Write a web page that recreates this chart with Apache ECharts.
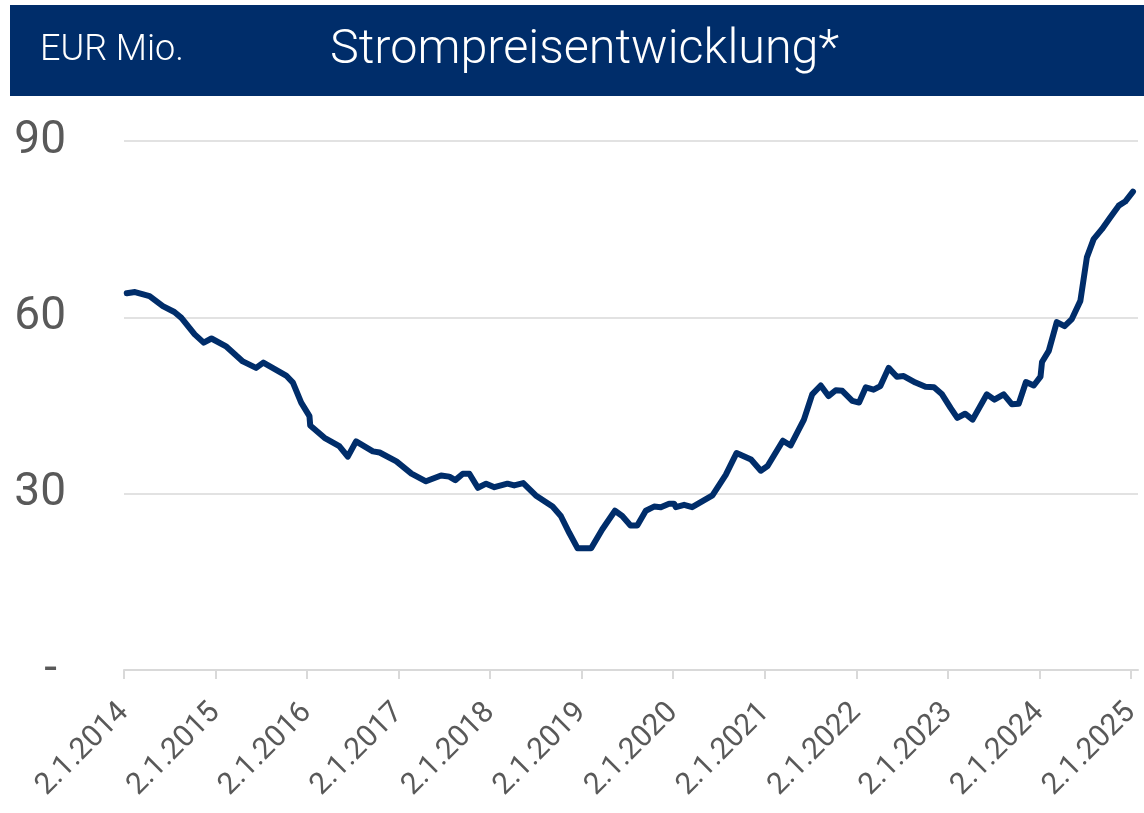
<!DOCTYPE html>
<html>
<head>
<meta charset="utf-8">
<script src="https://cdn.jsdelivr.net/npm/echarts@6/dist/echarts.min.js"></script>
<style>
  html, body { margin: 0; padding: 0; background: #fff; }
  #chart { width: 1144px; height: 813px; }
</style>
</head>
<body>
<div id="chart"></div>
<script>
// Messpunkte
const dates = [
  '2014-01-13', '2014-02-15', '2014-04-14', '2014-06-06', '2014-07-22', '2014-08-19',
  '2014-10-11', '2014-11-16', '2014-12-17', '2015-02-15', '2015-04-21', '2015-06-13',
  '2015-07-12', '2015-10-11', '2015-11-07', '2015-12-10', '2016-01-12', '2016-01-15',
  '2016-03-12', '2016-05-10', '2016-06-13', '2016-07-16', '2016-09-21', '2016-10-18',
  '2016-12-24', '2017-02-22', '2017-04-21', '2017-06-20', '2017-07-23', '2017-08-16',
  '2017-09-15', '2017-10-11', '2017-11-14', '2017-12-17', '2018-01-19', '2018-03-12',
  '2018-04-08', '2018-05-14', '2018-07-03', '2018-09-08', '2018-10-11', '2018-11-14',
  '2018-12-17', '2019-02-09', '2019-03-25', '2019-05-15', '2019-06-13', '2019-07-16',
  '2019-08-12', '2019-09-15', '2019-10-18', '2019-11-14', '2019-12-17', '2020-01-06',
  '2020-01-13', '2020-02-15', '2020-03-18', '2020-06-07', '2020-07-30', '2020-09-11',
  '2020-11-08', '2020-12-17', '2021-01-13', '2021-03-15', '2021-04-15', '2021-06-07',
  '2021-07-10', '2021-08-13', '2021-09-13', '2021-10-12', '2021-11-07', '2021-12-17',
  '2022-01-13', '2022-02-09', '2022-03-12', '2022-04-08', '2022-05-11', '2022-06-13',
  '2022-07-10', '2022-08-26', '2022-10-05', '2022-11-08', '2022-12-10', '2023-01-13',
  '2023-02-09', '2023-03-12', '2023-04-11', '2023-06-07', '2023-07-07', '2023-08-13',
  '2023-09-15', '2023-10-12', '2023-11-10', '2023-12-11', '2024-01-07', '2024-01-13',
  '2024-02-09', '2024-03-12', '2024-04-12', '2024-05-11', '2024-06-14', '2024-07-10',
  '2024-08-06', '2024-09-08', '2024-10-11', '2024-11-14', '2024-12-10', '2025-01-10'
]
const prices = [
  64.1, 64.3, 63.6, 61.9, 60.9, 59.9,
  57.1, 55.7, 56.4, 55.0, 52.5, 51.4,
  52.3, 50.1, 48.9, 45.5, 43.2, 41.6,
  39.5, 38.1, 36.3, 38.9, 37.2, 37.0,
  35.5, 33.4, 32.1, 33.1, 32.9, 32.3,
  33.4, 33.4, 31.0, 31.7, 31.1, 31.7,
  31.4, 31.8, 29.7, 27.8, 26.2, 23.3,
  20.7, 20.7, 23.9, 27.1, 26.2, 24.6,
  24.6, 27.1, 27.8, 27.7, 28.3, 28.3,
  27.7, 28.1, 27.7, 29.7, 33.2, 36.9,
  35.8, 33.9, 34.7, 39.0, 38.2, 42.6,
  46.9, 48.4, 46.6, 47.6, 47.5, 45.8,
  45.5, 48.1, 47.7, 48.3, 51.4, 49.9,
  50.0, 48.9, 48.2, 48.1, 46.9, 44.6,
  42.9, 43.6, 42.6, 46.9, 46.0, 46.9,
  45.2, 45.3, 49.0, 48.4, 49.9, 52.4,
  54.3, 59.2, 58.5, 59.7, 62.8, 70.2,
  73.3, 75.0, 77.0, 79.0, 79.7, 81.4
]
const tickDates = [
  '2014-01-02', '2015-01-02', '2016-01-02', '2017-01-02', '2018-01-02', '2019-01-02',
  '2020-01-02', '2021-01-02', '2022-01-02', '2023-01-02', '2024-01-02', '2025-01-02'
]
const axisStart = '2014-01-02'
const axisEnd = '2025-01-30'

const toTime = s => {
  const p = s.split('-').map(Number)
  return new Date(p[0], p[1] - 1, p[2]).getTime()
}

const tickValues = tickDates.map(toTime)
const seriesData = dates.map((d, i) => [toTime(d), prices[i]])

const navy = '#002d6a'
const grey = '#595959'
const fontFamily = 'Roboto, "Noto Sans", sans-serif'

const chart = echarts.init(document.getElementById('chart'))

const option = {
  animation: false,
  graphic: [
    {
      type: 'rect',
      left: 10,
      top: 5,
      shape: { width: 1134, height: 91 },
      style: { fill: navy }
    },
    {
      type: 'text',
      x: 40,
      y: 51,
      style: {
        text: 'EUR Mio.',
        fill: '#fff',
        font: '300 36px ' + fontFamily,
        verticalAlign: 'middle'
      }
    },
    {
      type: 'text',
      x: 330,
      y: 51,
      style: {
        text: 'Strompreisentwicklung*',
        fill: '#fff',
        font: '300 48.5px ' + fontFamily,
        verticalAlign: 'middle'
      }
    }
  ],
  grid: {
    left: 124,
    right: 6,
    top: 141,
    bottom: 143
  },
  xAxis: {
    type: 'value',
    min: toTime(axisStart),
    max: toTime(axisEnd),
    axisLine: { show: true, lineStyle: { color: '#d9d9d9', width: 2 } },
    axisTick: {
      show: true,
      customValues: tickValues,
      length: 9,
      lineStyle: { color: '#d9d9d9', width: 2 }
    },
    axisLabel: {
      customValues: tickValues,
      rotate: 45,
      margin: 38,
      color: grey,
      fontSize: 30,
      fontFamily: fontFamily,
      formatter: function (val) {
        const d = new Date(val)
        return d.getDate() + '.' + (d.getMonth() + 1) + '.' + d.getFullYear()
      }
    },
    splitLine: { show: false }
  },
  yAxis: {
    type: 'value',
    min: 0,
    max: 90,
    interval: 30,
    axisLine: { show: false },
    axisTick: { show: false },
    axisLabel: {
      margin: 58,
      color: grey,
      fontSize: 46,
      fontFamily: fontFamily,
      formatter: function (val) {
        return val === 0 ? '{z|-}' : String(val)
      },
      rich: {
        z: { color: grey, fontSize: 46, fontFamily: fontFamily, padding: [0, 9, 0, 0] }
      }
    },
    splitLine: { lineStyle: { color: '#d9d9d9', width: 1.5 } }
  },
  series: [
    {
      name: 'Strompreis',
      type: 'line',
      data: seriesData,
      showSymbol: false,
      smooth: false,
      lineStyle: { color: navy, width: 6, join: 'round', cap: 'round' },
      itemStyle: { color: navy }
    }
  ]
}

chart.setOption(option)
</script>
</body>
</html>
